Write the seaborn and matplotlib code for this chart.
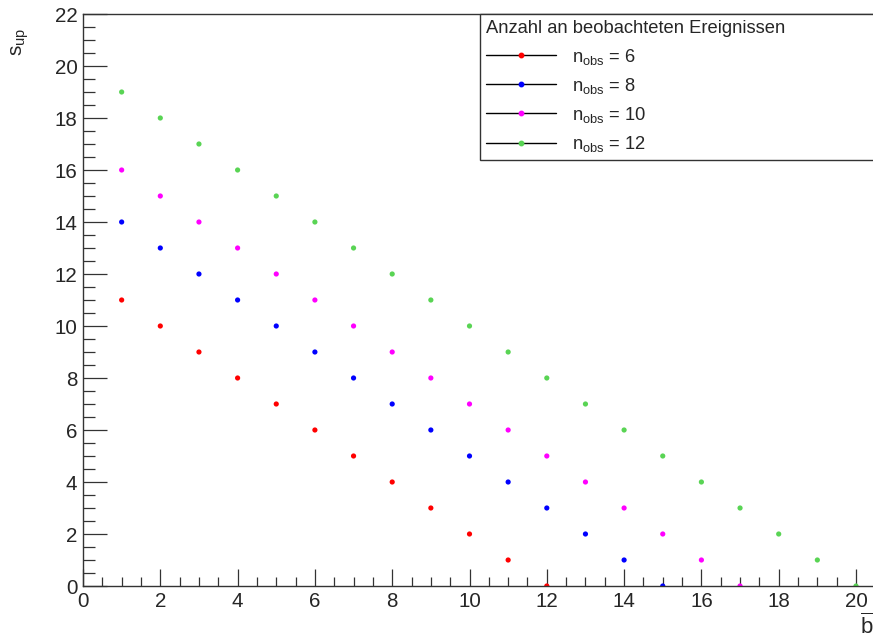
import numpy as np
import pandas as pd
import matplotlib
matplotlib.use("Agg")
import matplotlib.pyplot as plt
from matplotlib.lines import Line2D
from matplotlib.ticker import MultipleLocator
import seaborn as sns

# Expected background b and upper limit s_up for each observed count
b_n6 = [1, 2, 3, 4, 5, 6, 7, 8, 9, 10, 11, 12]
s_n6 = [11, 10, 9, 8, 7, 6, 5, 4, 3, 2, 1, 0]
b_n8 = [1, 2, 3, 4, 5, 6, 7, 8, 9, 10, 11, 12, 13, 14, 15]
s_n8 = [14, 13, 12, 11, 10, 9, 8, 7, 6, 5, 4, 3, 2, 1, 0]
b_n10 = [1, 2, 3, 4, 5, 6, 7, 8, 9, 10, 11, 12, 13, 14, 15, 16, 17]
s_n10 = [16, 15, 14, 13, 12, 11, 10, 9, 8, 7, 6, 5, 4, 3, 2, 1, 0]
b_n12 = [1, 2, 3, 4, 5, 6, 7, 8, 9, 10, 11, 12, 13, 14, 15, 16, 17, 18, 19, 20]
s_n12 = [19, 18, 17, 16, 15, 14, 13, 12, 11, 10, 9, 8, 7, 6, 5, 4, 3, 2, 1, 0]

n_obs = [6, 8, 10, 12]
colors = ["#ff0000", "#0000ff", "#ff00ff", "#59d454"]

frames = []
for n, b, s in zip(n_obs, [b_n6, b_n8, b_n10, b_n12], [s_n6, s_n8, s_n10, s_n12]):
    frames.append(pd.DataFrame({"b": b, "s": s, "n": n}))
df = pd.concat(frames, ignore_index=True)

sns.set_style("white")
plt.rcParams["font.family"] = ["Liberation Sans", "DejaVu Sans"]
plt.rcParams["mathtext.default"] = "regular"

fig = plt.figure(figsize=(8.73, 6.41), dpi=100)
ax = fig.add_axes([83 / 873, 55 / 641, 790 / 873, 572 / 641])

sns.scatterplot(data=df, x="b", y="s", hue="n", palette=dict(zip(n_obs, colors)),
                s=14, linewidth=0, marker="o", legend=False, ax=ax)

ax.set_xlim(0, 790 / 38.65)
ax.set_ylim(0, 22)
ax.xaxis.set_major_locator(MultipleLocator(2))
ax.xaxis.set_minor_locator(MultipleLocator(0.5))
ax.yaxis.set_major_locator(MultipleLocator(2))
ax.yaxis.set_minor_locator(MultipleLocator(0.5))
ax.tick_params(axis="both", which="both", direction="in", color="#333333",
               width=0.9, labelsize=14.8, bottom=True, left=True,
               top=False, right=False)
ax.tick_params(axis="x", which="major", length=12.5, pad=4)
ax.tick_params(axis="x", which="minor", length=6.5)
ax.tick_params(axis="y", which="major", length=17.3, pad=4)
ax.tick_params(axis="y", which="minor", length=8.6)
for side in ["left", "bottom", "top"]:
    ax.spines[side].set_color("#333333")
    ax.spines[side].set_linewidth(1.0)
ax.spines["right"].set_visible(False)

ax.set_xlabel("")
ax.set_ylabel("")
fig.text(20 / 873, 1 - 42 / 641, r"$s_{up}$", rotation=90, fontsize=15,
         ha="center", va="center")
fig.text(867 / 873, 1 - 626 / 641, r"$\overline{b}$", fontsize=16,
         ha="center", va="center")

handles = [Line2D([0], [0], color="black", lw=1.0, marker="o", markersize=3.2,
                  markerfacecolor=c, markeredgecolor=c) for c in colors]
labels = [f"$n_{{obs}}$ = {n}" for n in n_obs]
leg = fig.legend(handles, labels, title="Anzahl an beobachteten Ereignissen",
                 loc="upper left", bbox_to_anchor=(480 / 873, 1 - 157 / 641, 0.6, 143 / 641),
                 mode="expand", fontsize=13.2, title_fontsize=13.2, handlelength=3.8,
                 handletextpad=0.85, labelspacing=0.5, borderpad=0.35,
                 fancybox=False, framealpha=1, edgecolor="#333333", borderaxespad=0)
leg.get_frame().set_linewidth(1.0)
leg._legend_box.align = "left"

fig.savefig("out.png", dpi=100)
